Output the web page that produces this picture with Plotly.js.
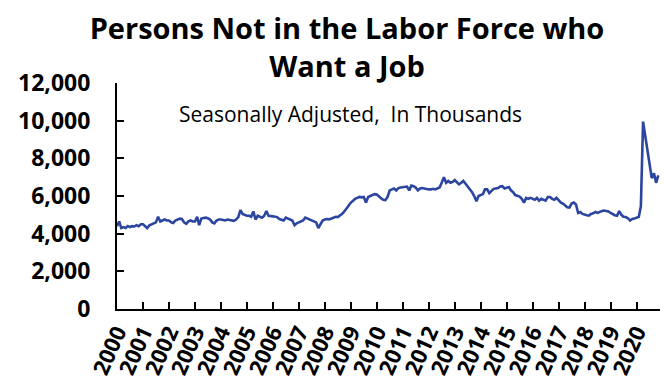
<!DOCTYPE html>
<html>
<head>
<meta charset="utf-8">
<script src="https://cdn.plot.ly/plotly-3.0.1.min.js"></script>
<style>
html, body { margin: 0; padding: 0; background: #ffffff; }
#chart { width: 665px; height: 385px; }
</style>
</head>
<body>
<div id="chart"></div>
<script>
// Persons not in the labor force who want a job, seasonally adjusted, thousands (monthly, Jan..Dec)
const years = [2000, 2001, 2002, 2003, 2004, 2005, 2006, 2007, 2008, 2009, 2010,
               2011, 2012, 2013, 2014, 2015, 2016, 2017, 2018, 2019, 2020];
const v2000 = [4400, 4650, 4300, 4350, 4300, 4400, 4350, 4400, 4380, 4450, 4400, 4500];
const v2001 = [4500, 4420, 4300, 4450, 4500, 4550, 4600, 4900, 4650, 4700, 4750, 4700];
const v2002 = [4700, 4600, 4570, 4700, 4750, 4800, 4780, 4600, 4520, 4650, 4700, 4650];
const v2003 = [4650, 4900, 4450, 4800, 4830, 4850, 4820, 4750, 4600, 4550, 4700, 4750];
const v2004 = [4750, 4720, 4700, 4750, 4720, 4700, 4680, 4750, 4880, 5250, 5050, 5000];
const v2005 = [4950, 4950, 4900, 5180, 4750, 4950, 4900, 4850, 4950, 5200, 4950, 4950];
const v2006 = [4920, 4900, 4880, 4780, 4750, 4700, 4850, 4800, 4750, 4700, 4450, 4550];
const v2007 = [4600, 4650, 4700, 4850, 4800, 4750, 4700, 4680, 4600, 4300, 4550, 4700];
const v2008 = [4750, 4780, 4760, 4800, 4850, 4900, 4880, 4950, 5050, 5180, 5350, 5500];
const v2009 = [5650, 5750, 5850, 5900, 5950, 5930, 5950, 5650, 5950, 6000, 6050, 6100];
const v2010 = [6080, 5950, 5880, 5800, 5780, 5950, 6300, 6350, 6400, 6300, 6420, 6450];
const v2011 = [6470, 6450, 6500, 6300, 6550, 6520, 6450, 6300, 6400, 6420, 6400, 6350];
const v2012 = [6350, 6350, 6380, 6350, 6400, 6450, 6700, 7000, 6700, 6800, 6700, 6750];
const v2013 = [6850, 6750, 6620, 6700, 6800, 6650, 6500, 6400, 6200, 6000, 5720, 6000];
const v2014 = [6050, 6100, 6350, 6350, 6150, 6300, 6380, 6400, 6420, 6500, 6520, 6400];
const v2015 = [6420, 6480, 6300, 6200, 6050, 6000, 5970, 5850, 5650, 5900, 5850, 5900];
const v2016 = [5850, 5800, 5900, 5750, 5850, 5780, 5750, 5950, 5950, 5850, 5800, 5900];
const v2017 = [5750, 5650, 5600, 5480, 5400, 5380, 5600, 5650, 5550, 5100, 5150, 5050];
const v2018 = [5000, 4980, 4960, 5050, 5080, 5150, 5100, 5130, 5200, 5230, 5200, 5180];
const v2019 = [5100, 5030, 4980, 4950, 5200, 5000, 4900, 4880, 4820, 4700, 4780, 4800];
const v2020 = [4850, 4900, 5450, 9950, 9200, 8450, 7700, 6950, 7200, 6700, 7100];
const yearValues = [v2000, v2001, v2002, v2003, v2004, v2005, v2006, v2007, v2008, v2009, v2010,
                    v2011, v2012, v2013, v2014, v2015, v2016, v2017, v2018, v2019, v2020];
const yTicks = [0, 2000, 4000, 6000, 8000, 10000, 12000];

const xDates = [];
const yVals = [];
years.forEach(function (yr, i) {
  yearValues[i].forEach(function (v, m) {
    xDates.push(yr + '-' + String(m + 1).padStart(2, '0') + '-01');
    yVals.push(v);
  });
});

const FONT = '"Open Sans", Lato, "Noto Sans", sans-serif';

const trace = {
  type: 'scatter',
  mode: 'lines',
  x: xDates,
  y: yVals,
  line: { color: '#2B45A0', width: 2.6 },
  hoverinfo: 'x+y'
};

const layout = {
  width: 665,
  height: 385,
  margin: { l: 117, r: 5, t: 83, b: 76 },
  paper_bgcolor: '#ffffff',
  plot_bgcolor: '#ffffff',
  showlegend: false,
  title: {
    text: 'Persons Not in the Labor Force who<br>Want a Job',
    font: { family: FONT, size: 29, color: '#000000', weight: 'bold' },
    x: 347 / 665,
    xanchor: 'center',
    xref: 'container',
    y: 1 - 39 / 385,
    yanchor: 'bottom',
    yref: 'container'
  },
  xaxis: {
    type: 'date',
    range: ['2000-01-01', '2020-11-25'],
    tick0: '2000-01-01',
    dtick: 'M12',
    tickformat: '%Y',
    tickangle: -66,
    ticks: 'inside',
    ticklen: 7,
    tickwidth: 2,
    tickcolor: '#000000',
    showline: true,
    linecolor: '#000000',
    linewidth: 2,
    showgrid: false,
    zeroline: false,
    tickfont: { family: FONT, size: 22, color: '#000000', weight: 'bold' }
  },
  yaxis: {
    range: [0, 12000],
    tickvals: yTicks,
    tickformat: ',',
    ticks: 'inside',
    ticklen: 7,
    tickwidth: 2,
    tickcolor: '#000000',
    showline: true,
    linecolor: '#000000',
    linewidth: 2,
    showgrid: false,
    zeroline: false,
    ticklabelstandoff: 20,
    tickfont: { family: FONT, size: 23, color: '#000000', weight: 'bold' }
  },
  annotations: [{
    text: 'Seasonally Adjusted,  In Thousands',
    xref: 'paper',
    yref: 'paper',
    x: (350 - 117) / 543,
    y: (309 - 114) / 226,
    xanchor: 'center',
    yanchor: 'middle',
    showarrow: false,
    font: { family: FONT, size: 21, color: '#000000' }
  }]
};

Plotly.newPlot('chart', [trace], layout, { displayModeBar: false, staticPlot: true });
</script>
</body>
</html>
